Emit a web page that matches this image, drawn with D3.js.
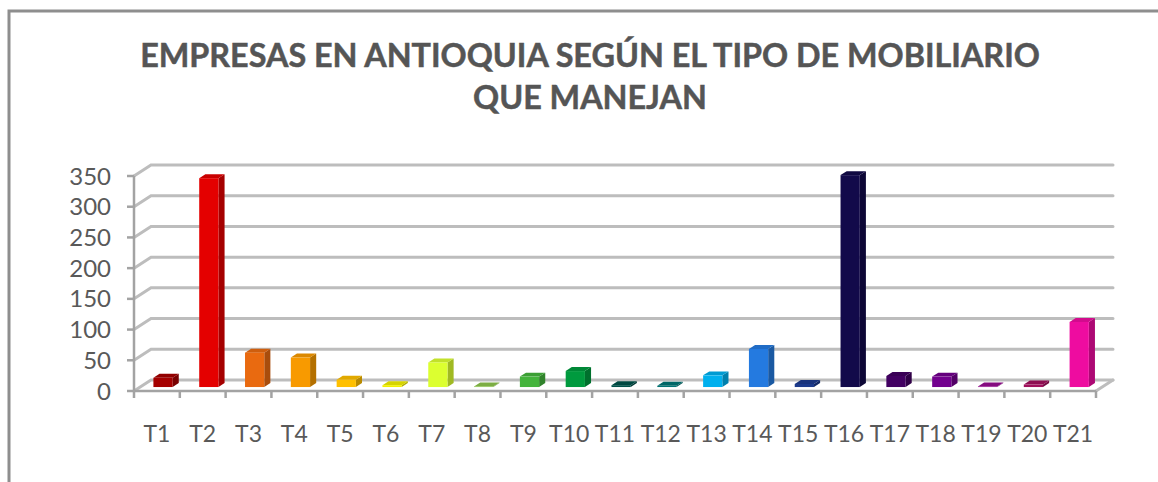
<!DOCTYPE html>
<html>
<head>
<meta charset="utf-8">
<script src="https://cdn.jsdelivr.net/npm/d3@7"></script>
<style>
  body { margin: 0; background: #fff; }
  svg { display: block; }
</style>
</head>
<body>
<div id="canvas"></div>
<script>
const categories = ['T1', 'T2', 'T3', 'T4', 'T5', 'T6', 'T7', 'T8', 'T9', 'T10', 'T11',
  'T12', 'T13', 'T14', 'T15', 'T16', 'T17', 'T18', 'T19', 'T20', 'T21'];
const values = [15, 340, 56, 48, 12, 3, 40, 1, 17, 26, 3, 2, 19, 62, 5, 345, 18, 17, 1, 4, 106];
const colors = ['#a50000', '#e40000', '#e96a10', '#f89a00', '#ffc000', '#f2f000', '#dcff30',
  '#8cc44c', '#44b43c', '#009a3e', '#00524a', '#007474', '#00b0ee', '#247ae0', '#1c3a8c',
  '#120a4a', '#420062', '#72008e', '#960c90', '#a0105c', '#ee0ca0'];
const yTicks = [0, 50, 100, 150, 200, 250, 300, 350];
const titleLines = ['EMPRESAS EN ANTIOQUIA SEGÚN EL TIPO DE MOBILIARIO', 'QUE MANEJAN'];

const width = 1158;
const height = 482;
const DX = 17; // depth of the plot box
const DY = -11;
const textColor = '#595959';

const svg = d3
  .select('#canvas')
  .append('svg')
  .attr('width', width)
  .attr('height', height);

// chart frame
svg.append('rect')
  .attr('x', 9).attr('y', 11)
  .attr('width', 1300).attr('height', 600)
  .attr('fill', 'none')
  .attr('stroke', '#8e8e8e')
  .attr('stroke-width', 3);

// title
const titleTexts = svg.selectAll('text.title')
  .data(titleLines)
  .enter()
  .append('text')
  .attr('class', 'title')
  .attr('x', 590)
  .attr('y', (d, i) => 67 + i * 42)
  .attr('text-anchor', 'middle')
  .attr('font-family', 'Lato, sans-serif')
  .attr('font-weight', 'bold')
  .attr('font-size', 33)
  .attr('fill', '#555555')
  .attr('stroke', '#555555')
  .attr('stroke-width', 0.5)
  .text(d => d);
const w0 = titleTexts.node().getComputedTextLength();
titleTexts.attr('font-size', 33 * 900 / w0);

const xScale = d3.scaleBand().domain(categories).range([134, 1096]);
const yScale = d3.scaleLinear().domain([0, 350]).range([391, 176]);
const x0 = 134, x1 = 1096, y0 = yScale(0);

const grid = svg.append('g')
  .attr('fill', 'none')
  .attr('stroke', '#bdbdbd')
  .attr('stroke-width', 3)
  .attr('stroke-linecap', 'round');

// back wall gridlines + side wall diagonals
grid.selectAll('polyline')
  .data(yTicks)
  .enter()
  .append('polyline')
  .attr('points', d => `${x0},${yScale(d)} ${x0 + DX},${yScale(d) + DY} ${x1 + DX},${yScale(d) + DY}`);

// floor right edge
grid.append('line')
  .attr('x1', x1).attr('y1', y0)
  .attr('x2', x1 + DX).attr('y2', y0 + DY);
// <-- 그리드 end -->

const axisG = svg.append('g')
  .attr('stroke', '#a3a3a3')
  .attr('stroke-width', 2.5)
  .attr('fill', 'none');

axisG.append('line')
  .attr('x1', x0).attr('y1', y0)
  .attr('x2', x1).attr('y2', y0);
axisG.append('line')
  .attr('x1', x0).attr('y1', yScale(350))
  .attr('x2', x0).attr('y2', y0);

axisG.selectAll('line.ytick')
  .data(yTicks)
  .enter()
  .append('line')
  .attr('class', 'ytick')
  .attr('x1', x0 - 7).attr('x2', x0)
  .attr('y1', d => yScale(d)).attr('y2', d => yScale(d));

const xTickPos = categories.map(c => xScale(c)).concat([x1]);
axisG.selectAll('line.xtick')
  .data(xTickPos)
  .enter()
  .append('line')
  .attr('class', 'xtick')
  .attr('x1', d => d).attr('x2', d => d)
  .attr('y1', y0).attr('y2', y0 + 7);

svg.append('g')
  .selectAll('text')
  .data(yTicks)
  .enter()
  .append('text')
  .attr('x', 111)
  .attr('y', d => yScale(d))
  .attr('dy', '0.36em')
  .attr('text-anchor', 'end')
  .attr('font-family', 'Lato, sans-serif')
  .attr('font-size', 24)
  .attr('fill', textColor)
  .text(d => d);

svg.append('g')
  .selectAll('text')
  .data(categories)
  .enter()
  .append('text')
  .attr('x', d => xScale(d) + xScale.bandwidth() / 2)
  .attr('y', 442)
  .attr('text-anchor', 'middle')
  .attr('font-family', 'Lato, sans-serif')
  .attr('font-size', 23)
  .attr('fill', textColor)
  .text(d => d);
// <-- 축 end -->

const fz = 0.36;   // bar front depth
const bz = 0.36;   // bar thickness in depth
const barW = xScale.bandwidth() * 0.42;
const bdx = DX * bz, bdy = DY * bz;

const bars = svg.append('g')
  .selectAll('g')
  .data(categories.map((c, i) => ({ cat: c, value: values[i], color: colors[i] })))
  .enter()
  .append('g');

const fx = d => xScale(d.cat) + (xScale.bandwidth() - barW) / 2 + fz * DX;
const fyB = y0 + fz * DY;
const fyT = d => yScale(d.value) + fz * DY;

// side face
bars.append('path')
  .attr('d', d => {
    const xr = fx(d) + barW;
    return `M${xr},${fyB}L${xr + bdx},${fyB + bdy}L${xr + bdx},${fyT(d) + bdy}L${xr},${fyT(d)}Z`;
  })
  .attr('fill', d => d3.color(d.color).darker(0.9));

// top face
bars.append('path')
  .attr('d', d => {
    const xl = fx(d), t = fyT(d);
    return `M${xl},${t}L${xl + barW},${t}L${xl + barW + bdx},${t + bdy}L${xl + bdx},${t + bdy}Z`;
  })
  .attr('fill', d => d3.color(d.color).darker(0.35));

// front face
bars.append('rect')
  .attr('x', d => fx(d))
  .attr('y', d => fyT(d))
  .attr('width', barW)
  .attr('height', d => fyB - fyT(d))
  .attr('fill', d => d.color);
// <-- 막대 end -->
</script>
</body>
</html>
